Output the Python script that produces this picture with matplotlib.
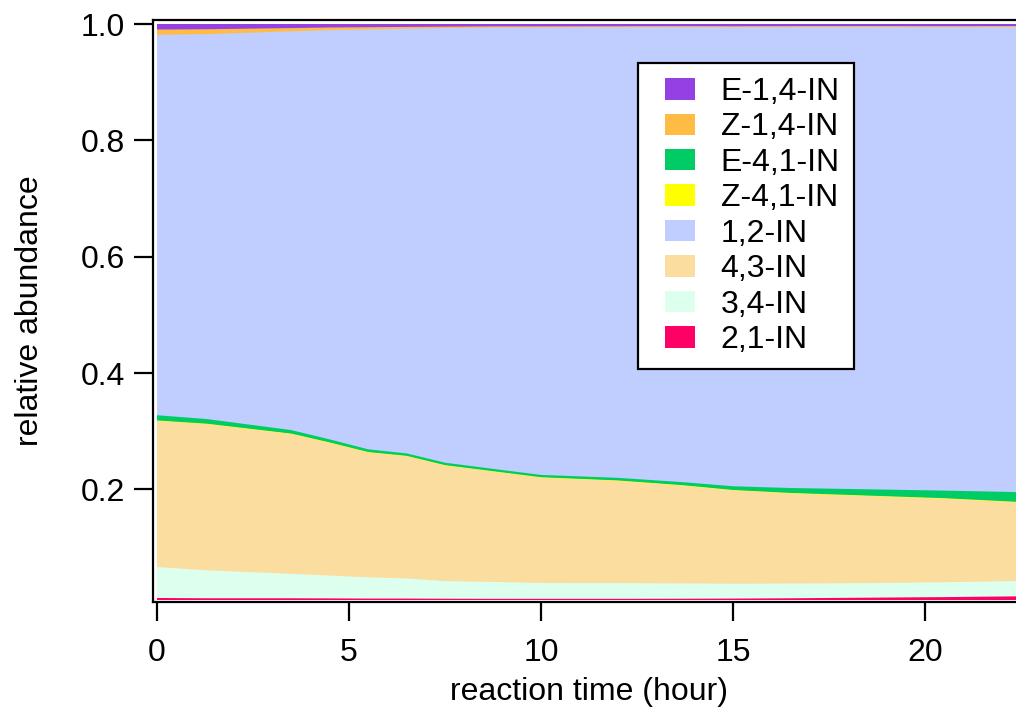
import matplotlib
matplotlib.use("Agg")
import matplotlib.pyplot as plt
from matplotlib.patches import Patch, Rectangle
from matplotlib.legend_handler import HandlerPatch
import numpy as np

plt.rcParams['font.family'] = ['Liberation Sans', 'DejaVu Sans']

# reaction time (hour)
time_h = [0, 1.3, 3.5, 4.5, 5.5, 6.5, 7.5, 8.8, 10, 12, 13.7, 15, 16.5, 18.5, 20.5, 22.4]

# relative abundance of each species
in_21 = [0.0135, 0.0130, 0.0130, 0.0128, 0.0125, 0.0125, 0.0122, 0.0120, 0.0120, 0.0120, 0.0122, 0.0125, 0.0130, 0.0140, 0.0150, 0.0163]
in_34 = [0.0532, 0.0480, 0.0420, 0.0392, 0.0365, 0.0345, 0.0303, 0.0290, 0.0272, 0.0270, 0.0263, 0.0255, 0.0253, 0.0250, 0.0255, 0.0263]
in_43 = [0.2511, 0.2512, 0.2402, 0.2280, 0.2145, 0.2100, 0.1985, 0.1892, 0.1810, 0.1757, 0.1680, 0.1603, 0.1549, 0.1497, 0.1437, 0.1353]
z_41 = [0.0008, 0.0008, 0.0008, 0.0008, 0.0008, 0.0008, 0.0008, 0.0008, 0.0008, 0.0008, 0.0008, 0.0008, 0.0008, 0.0008, 0.0008, 0.0008]
e_41 = [0.0090, 0.0080, 0.0060, 0.0052, 0.0047, 0.0042, 0.0042, 0.0040, 0.0040, 0.0045, 0.0052, 0.0064, 0.0085, 0.0108, 0.0130, 0.0168]
in_12 = [0.6539, 0.6615, 0.6855, 0.7035, 0.7217, 0.7300, 0.7470, 0.7590, 0.7693, 0.7747, 0.7824, 0.7892, 0.7924, 0.7947, 0.7968, 0.7995]
z_14 = [0.0090, 0.0085, 0.0055, 0.0045, 0.0038, 0.0030, 0.0025, 0.0020, 0.0017, 0.0015, 0.0015, 0.0015, 0.0015, 0.0015, 0.0015, 0.0015]
e_14 = [0.0095, 0.0090, 0.0070, 0.0060, 0.0055, 0.0050, 0.0045, 0.0040, 0.0040, 0.0038, 0.0036, 0.0038, 0.0036, 0.0035, 0.0037, 0.0035]

# stacking order (bottom -> top)
stack_names = ['2,1-IN', '3,4-IN', '4,3-IN', 'Z-4,1-IN', 'E-4,1-IN', '1,2-IN', 'Z-1,4-IN', 'E-1,4-IN']
stack_values = [in_21, in_34, in_43, z_41, e_41, in_12, z_14, e_14]
colors = {
    'E-1,4-IN': '#9440E2',
    'Z-1,4-IN': '#FFBC44',
    'E-4,1-IN': '#00CC66',
    'Z-4,1-IN': '#FFFF00',
    '1,2-IN': '#BFCEFF',
    '4,3-IN': '#FCDDA0',
    '3,4-IN': '#DDFFEE',
    '2,1-IN': '#FF0066',
}
legend_order = ['E-1,4-IN', 'Z-1,4-IN', 'E-4,1-IN', 'Z-4,1-IN', '1,2-IN', '4,3-IN', '3,4-IN', '2,1-IN']

FS = 23
W, H = 1016, 711
fig = plt.figure(figsize=(W / 100, H / 100), dpi=100)
ax_l, ax_r, ax_t, ax_b = 153.0, 1016, 19.5, 602.3
ax = fig.add_axes([ax_l / W, 1 - ax_b / H, (ax_r - ax_l) / W, (ax_b - ax_t) / H])

pxh = 38.4   # px per hour
pxu = 581.6  # px per unit abundance
ax.set_xlim(0 - (157.0 - ax_l) / pxh, (ax_r - 157.0) / pxh)
ax.set_ylim(0.01 - 2.3 / pxu, 1.0 + (24.0 - ax_t) / pxu)

clip = Rectangle((0, 0.01), 30, 0.99, transform=ax.transData)
t = np.array(time_h)
tops = np.cumsum(np.array(stack_values, dtype=float), axis=0)
# draw cumulative areas from the top layer down to avoid seams
for i in range(len(stack_names) - 1, -1, -1):
    name = stack_names[i]
    poly = ax.fill_between(t, 0, tops[i], facecolor=colors[name], edgecolor='none',
                           linewidth=0)
    poly.set_clip_path(clip)

for s in ['left', 'bottom', 'top']:
    ax.spines[s].set_linewidth(1.6)
    ax.spines[s].set_color('black')
ax.spines['right'].set_visible(False)

ax.set_xticks([0, 5, 10, 15, 20])
ax.set_yticks([0.2, 0.4, 0.6, 0.8, 1.0])
ax.set_yticklabels(['0.2', '0.4', '0.6', '0.8', '1.0'])
ax.tick_params(axis='both', direction='out', length=14, width=1.6, labelsize=FS, colors='black')
ax.tick_params(axis='y', pad=6)
ax.tick_params(axis='x', pad=12)

ax.set_xlabel('reaction time (hour)', fontsize=FS, va='center', ha='center')
ax.xaxis.set_label_coords((589 - ax_l) / (ax_r - ax_l), (ax_b - 692) / (ax_b - ax_t))
ax.set_ylabel('relative abundance', fontsize=FS, va='center', ha='center')
ax.yaxis.set_label_coords((30 - ax_l) / (ax_r - ax_l), (ax_b - 311) / (ax_b - ax_t))


def offset_patch(legend, orig_handle, xdescent, ydescent, width, height, fontsize):
    off = 9.5
    return Rectangle((-xdescent + off, -ydescent), width - off, height)


handles = [Patch(facecolor=colors[n], edgecolor='none', label=n) for n in legend_order]
leg = ax.legend(handles=handles, loc='upper left',
                bbox_to_anchor=(638 / W, 1 - 63 / H), bbox_transform=fig.transFigure,
                fontsize=FS, frameon=True, fancybox=False, framealpha=1,
                handlelength=1.35, handleheight=0.66, handletextpad=0.8,
                labelspacing=0.17, borderpad=0.44, borderaxespad=0,
                handler_map={Patch: HandlerPatch(patch_func=offset_patch)})
leg.get_frame().set_edgecolor('black')
leg.get_frame().set_linewidth(1.6)

fig.savefig('out.png', dpi=100)
